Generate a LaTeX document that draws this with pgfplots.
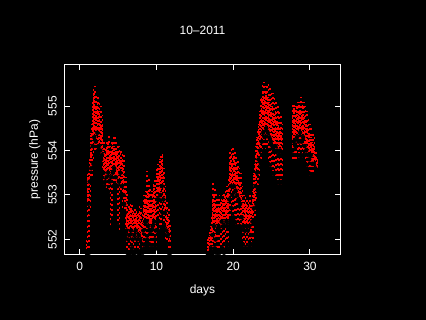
\documentclass[border=0pt]{standalone}
\usepackage{fontspec}
\setmainfont{Liberation Sans}
\usepackage{pgfplots}
\usepackage{pgfplotstable}
\pgfplotsset{compat=1.18}
\pgfplotstableread{
x clo chi tlo thi
0.9 551.70 552.00 551.68 553.50
1.1 552.80 553.40 551.70 553.55
1.3 553.30 553.80 552.60 554.00
1.5 553.60 554.40 553.30 554.60
1.7 554.10 555.10 553.70 555.40
1.9 554.30 555.30 553.90 555.45
2.1 554.20 555.00 553.90 555.25
2.3 554.40 555.10 554.00 555.20
2.5 554.10 554.90 553.85 555.10
2.7 554.00 554.70 553.80 555.00
2.9 553.90 554.60 553.50 554.80
3.1 553.50 554.00 553.20 554.20
3.3 553.30 553.90 553.05 554.10
3.5 553.40 554.10 553.10 554.20
3.7 553.50 554.20 553.00 554.35
3.9 553.30 554.00 552.20 554.10
4.1 553.40 554.00 552.40 554.25
4.3 553.50 554.20 553.20 554.30
4.5 553.60 554.10 553.20 554.30
4.7 553.40 554.00 553.20 554.20
4.9 553.20 554.00 552.30 554.10
5.1 553.30 553.90 552.10 554.10
5.3 553.50 554.00 553.00 554.05
5.5 553.20 553.80 552.60 554.00
5.7 553.00 553.60 552.80 553.90
5.9 552.60 553.20 552.10 553.40
6.1 552.20 552.80 551.70 553.10
6.3 552.00 552.60 551.65 552.80
6.5 552.10 552.70 551.70 552.80
6.7 552.20 552.70 551.80 552.80
6.9 552.00 552.60 551.65 552.70
7.1 552.10 552.60 551.70 552.75
7.3 552.20 552.60 551.90 552.70
7.5 552.00 552.50 551.70 552.60
7.7 552.10 552.60 551.65 552.75
7.9 552.00 552.60 551.75 552.70
8.1 551.90 552.40 551.70 552.60
8.3 552.20 552.70 551.80 553.00
8.5 552.40 552.90 551.90 553.10
8.7 552.40 553.00 552.00 553.55
8.9 552.30 553.10 551.90 553.40
9.1 552.20 552.90 551.80 553.20
9.3 552.20 552.80 551.80 553.10
9.5 552.30 553.00 551.80 553.30
9.7 552.40 553.20 552.00 553.40
9.9 552.20 552.80 551.80 553.10
10.1 552.90 553.60 552.40 553.70
10.3 552.90 553.50 552.10 553.60
10.5 553.00 553.80 552.20 553.95
10.7 553.20 553.90 552.60 554.00
10.9 552.90 553.50 552.30 553.60
11.1 552.60 553.00 551.90 553.20
11.3 552.20 552.70 551.75 552.90
11.5 552.10 552.50 551.70 552.70
11.7 551.90 552.30 551.70 552.40
16.7 551.65 552.00 551.65 552.10
16.9 551.70 552.10 551.65 552.20
17.1 551.80 552.30 551.65 552.50
17.3 552.10 552.90 551.70 553.30
17.5 552.30 553.00 551.80 553.20
17.7 552.00 552.80 551.70 553.10
17.9 552.20 552.80 551.70 552.95
18.1 552.30 552.80 551.70 553.00
18.3 552.20 552.80 551.75 552.90
18.5 552.40 552.90 551.80 553.00
18.7 552.30 552.90 551.70 553.10
18.9 552.30 553.00 551.75 553.10
19.1 552.40 553.00 551.90 553.20
19.3 552.30 553.10 551.80 553.40
19.5 552.90 553.70 552.40 554.00
19.7 553.20 553.90 552.70 554.10
19.9 553.00 553.70 552.50 554.10
20.1 553.20 553.90 552.40 554.00
20.3 553.10 553.70 552.30 553.85
20.5 553.00 553.60 552.20 553.80
20.7 552.90 553.40 552.30 553.60
20.9 552.80 553.30 552.20 553.50
21.1 552.50 553.00 551.90 553.20
21.3 552.30 552.90 551.80 553.00
21.5 552.20 552.80 551.75 553.00
21.7 552.30 552.80 551.80 552.95
21.9 552.20 552.70 551.75 552.90
22.1 552.30 552.80 551.90 553.00
22.3 552.10 552.70 551.80 552.80
22.5 552.40 552.90 551.90 553.10
22.7 552.70 553.50 552.40 553.70
22.9 553.20 553.90 552.80 554.10
23.1 553.50 554.30 553.10 554.50
23.3 553.80 554.60 553.30 554.80
23.5 554.00 554.90 553.70 555.20
23.7 554.20 555.20 553.90 555.50
23.9 554.40 555.30 554.00 555.55
24.1 554.30 555.20 553.90 555.45
24.3 554.50 555.30 554.00 555.50
24.5 554.40 555.20 553.70 555.50
24.7 554.30 555.10 553.60 555.40
24.9 554.20 555.00 553.50 555.30
25.1 554.10 555.00 553.40 555.30
25.3 554.00 554.80 553.50 555.20
25.5 554.10 554.90 553.30 555.10
25.7 554.00 554.70 553.20 555.00
25.9 553.90 554.60 553.30 554.90
26.1 554.00 554.50 553.20 554.80
26.3 553.90 554.40 553.30 554.60
27.7 554.00 554.80 553.70 555.10
27.9 554.20 555.00 553.70 555.10
28.1 554.10 554.80 553.70 555.00
28.3 554.30 555.00 553.90 555.10
28.5 554.20 554.90 553.80 555.10
28.7 554.40 555.00 553.90 555.20
28.9 554.20 554.90 553.80 555.10
29.1 554.30 555.00 553.90 555.10
29.3 554.10 554.80 553.70 555.00
29.5 554.00 554.70 553.60 554.90
29.7 553.90 554.50 553.50 554.70
29.9 553.80 554.40 553.40 554.60
30.1 553.90 554.30 553.40 554.50
30.3 553.70 554.20 553.40 554.40
30.5 553.70 554.10 553.45 554.30
30.7 553.60 553.90 553.45 554.00
30.9 553.55 553.80 553.50 553.85
}\data
\begin{document}
\begin{tikzpicture}
\fill[black] (0,0) rectangle (426pt,320pt);
\useasboundingbox (0,0) rectangle (426pt,320pt);
\begin{axis}[
  at={(64.3pt,65pt)}, anchor=south west,
  width=276.4pt, height=190.7pt, scale only axis,
  xmin=-2, xmax=34, ymin=551.65, ymax=555.94,
  xtick={0,10,20,30}, ytick={552,553,554,555},
  minor tick num=0,
  tick align=inside, major tick length=5.5pt,
  axis line style={white, line width=1pt},
  tick style={white, line width=1pt},
  /pgf/number format/assume math mode=true,
  ticklabel style={font=\fontsize{12}{14}\selectfont, text=white},
  xticklabel style={anchor=north, inner sep=0pt},
  xticklabel shift=6.7pt,
  yticklabel style={rotate=90, anchor=base, inner sep=0pt},
  yticklabel shift=7.6pt,
  title={10--2011},
  title style={at={(axis description cs:0.5,1)}, anchor=base, yshift=23.6pt, text=white, font=\fontsize{12}{14}\selectfont},
  xlabel={days},
  xlabel style={at={(axis description cs:0.5,0)}, anchor=base, yshift=-38.3pt, text=white, font=\fontsize{12}{14}\selectfont},
  ylabel={pressure (hPa)},
  ylabel style={at={(axis description cs:-0.0952,0.5)}, rotate=0, anchor=base, text=white, font=\fontsize{12}{14}\selectfont},
]
\addplot[only marks, mark=none,
  error bars/.cd, y dir=plus, y explicit, error mark=none,
  error bar style={draw=red, line width=1.6pt, dash pattern=on 2pt off 3.2pt}]
  table[x expr=\thisrow{x}+0.1, y=tlo, y error plus expr=\thisrow{thi}-\thisrow{tlo}] {\data};
\addplot[only marks, mark=none,
  error bars/.cd, y dir=plus, y explicit, error mark=none,
  error bar style={draw=red, line width=1.6pt, dash pattern=on 2pt off 1.5pt}]
  table[x=x, y=clo, y error plus expr=\thisrow{chi}-\thisrow{clo}] {\data};
\end{axis}
\end{tikzpicture}
\end{document}
